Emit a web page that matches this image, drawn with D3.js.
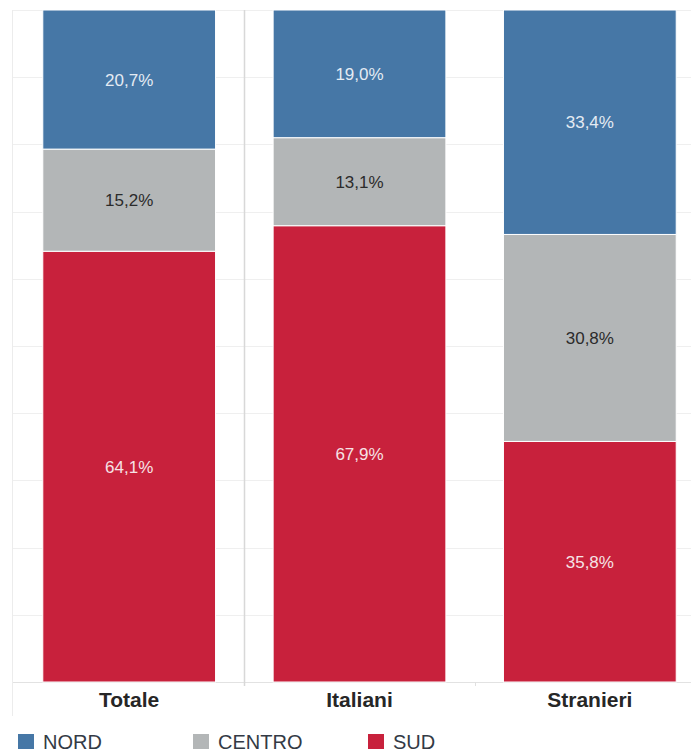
<!DOCTYPE html>
<html>
<head>
<meta charset="UTF-8">
<title>Nord Centro Sud</title>
<script src="https://d3js.org/d3.v7.min.js"></script>
<style>
  body { margin: 0; background: #fff; font-family: "Liberation Sans", Arial, sans-serif; }
</style>
</head>
<body>
<svg id="chart" width="691" height="753"></svg>
<script>
  // data
  var categories = ["Totale", "Italiani", "Stranieri"];
  var series = ["NORD", "CENTRO", "SUD"];
  var nord = [20.7, 19.0, 33.4];
  var centro = [15.2, 13.1, 30.8];
  var sud = [64.1, 67.9, 35.8];
  var yTicks = [0, 10, 20, 30, 40, 50, 60, 70, 80, 90, 100];

  var colors = { NORD: "#4677a6", CENTRO: "#b3b6b7", SUD: "#c8213c" };
  var labelColors = { NORD: "#e4ebf3", CENTRO: "#2b2b2b", SUD: "#f6e3e6" };

  var svg = d3.select("#chart");
  var plotLeft = 12, plotRight = 705, plotTop = 10, plotBottom = 682;

  var x = d3.scaleBand().domain(categories).range([plotLeft + 2, plotRight])
    .paddingInner(0.25).paddingOuter(0.125);
  var y = d3.scaleLinear().domain([0, 100]).range([plotBottom, plotTop]);

  // build rows for the stack
  var rows = categories.map(function (c, i) {
    return { cat: c, NORD: nord[i], CENTRO: centro[i], SUD: sud[i] };
  });
  // SUD at bottom, then CENTRO, NORD on top
  var stacked = d3.stack().keys(["SUD", "CENTRO", "NORD"])(rows);

  // gridlines
  svg.append("g").selectAll("line").data(yTicks).enter().append("line")
    .attr("x1", plotLeft).attr("x2", 691)
    .attr("y1", function (d) { return Math.round(y(d)) + 0.5; })
    .attr("y2", function (d) { return Math.round(y(d)) + 0.5; })
    .attr("stroke", function (d) { return d === 0 ? "#e2e2e2" : "#efefef"; })
    .attr("stroke-width", 1);

  // left axis line
  svg.append("line")
    .attr("x1", plotLeft + 0.5).attr("x2", plotLeft + 0.5)
    .attr("y1", plotTop).attr("y2", 716)
    .attr("stroke", "#ececec");

  // separator after first category
  var sep1 = x("Totale") + x.bandwidth() + x.step() * x.paddingInner() / 2;
  svg.append("line")
    .attr("x1", Math.round(sep1) + 0.5).attr("x2", Math.round(sep1) + 0.5)
    .attr("y1", plotTop).attr("y2", plotBottom + 4)
    .attr("stroke", "#d8d8d8").attr("stroke-width", 1.5);

  var sep2 = x("Italiani") + x.bandwidth() + x.step() * x.paddingInner() / 2;
  svg.append("line")
    .attr("x1", Math.round(sep2) + 0.5).attr("x2", Math.round(sep2) + 0.5)
    .attr("y1", plotBottom).attr("y2", plotBottom + 4)
    .attr("stroke", "#e0e0e0");

  // bars
  var layers = svg.append("g").selectAll("g").data(stacked).enter().append("g")
    .attr("fill", function (d) { return colors[d.key]; });

  layers.selectAll("rect").data(function (d) { return d; }).enter().append("rect")
    .attr("x", function (d) { return x(d.data.cat); })
    .attr("width", x.bandwidth())
    .attr("y", function (d) { return y(d[1]); })
    .attr("height", function (d) { return y(d[0]) - y(d[1]); })
    .attr("stroke", "#ffffff").attr("stroke-width", 1);

  // value labels
  layers.each(function (layer) {
    d3.select(this).selectAll("text").data(layer).enter().append("text")
      .attr("x", function (d) { return x(d.data.cat) + x.bandwidth() / 2; })
      .attr("y", function (d) { return (y(d[0]) + y(d[1])) / 2; })
      .attr("dy", "0.35em")
      .attr("text-anchor", "middle")
      .attr("font-size", "17px")
      .attr("fill", labelColors[layer.key])
      .text(function (d) { return d3.format(".1f")(d[1] - d[0]).replace(".", ",") + "%"; });
  });

  // category labels
  svg.append("g").selectAll("text").data(categories).enter().append("text")
    .attr("x", function (d) { return x(d) + x.bandwidth() / 2; })
    .attr("y", 707)
    .attr("text-anchor", "middle")
    .attr("font-size", "21px")
    .attr("font-weight", "bold")
    .attr("fill", "#262626")
    .text(function (d) { return d; });

  // legend
  var legendX = [18, 193, 368];
  var legend = svg.append("g").selectAll("g").data(series).enter().append("g")
    .attr("transform", function (d, i) { return "translate(" + legendX[i] + ",734)"; });

  legend.append("rect")
    .attr("width", 16).attr("height", 15)
    .attr("fill", function (d) { return colors[d]; });

  legend.append("text")
    .attr("x", 25).attr("y", 15)
    .attr("font-size", "20px")
    .attr("fill", "#333a45")
    .text(function (d) { return d; });
</script>
</body>
</html>
